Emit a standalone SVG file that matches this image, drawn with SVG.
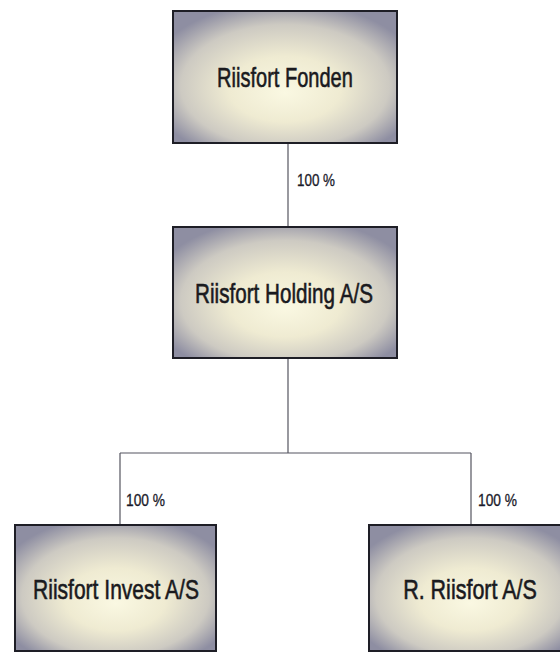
<svg xmlns="http://www.w3.org/2000/svg" width="560" height="655" viewBox="0 0 560 655">
<style>
.box{fill:url(#g);stroke:#1e1e26;stroke-width:2}
.t{font-family:"Liberation Sans",Arial,sans-serif;font-size:28px;fill:#1a1a1e;stroke:#1a1a1e;stroke-width:0.6;text-anchor:middle}
.p{font-family:"Liberation Sans",Arial,sans-serif;font-size:16px;fill:#1a1a2a;stroke:#1a1a2a;stroke-width:0.3}
.c{stroke:#555560;stroke-width:1.2;fill:none}
</style>
<defs>
<radialGradient id="g" cx="0.5" cy="0.55" r="0.62" fx="0.5" fy="0.62">
<stop offset="0" stop-color="#faf8e2"/>
<stop offset="0.4" stop-color="#efebd2"/>
<stop offset="0.75" stop-color="#cdcac2"/>
<stop offset="1" stop-color="#8e8ea2"/>
</radialGradient>
</defs>
<rect width="560" height="655" fill="#ffffff"/>
<g id="connectors">
<path class="c" d="M288 143V227"/>
<path class="c" d="M288 358V453M120 453H471M120 453V525M471 453V525"/>
</g>
<g id="labels">
<text class="p" x="297" y="186" textLength="38" lengthAdjust="spacingAndGlyphs">100 %</text>
<text class="p" x="126" y="506" textLength="39" lengthAdjust="spacingAndGlyphs">100 %</text>
<text class="p" x="478" y="506" textLength="39" lengthAdjust="spacingAndGlyphs">100 %</text>
</g>
<g id="fonden">
<rect class="box" x="173" y="11" width="224" height="132"/>
<text class="t" transform="matrix(0.7 0 0 1 285 87)" x="0" y="0" textLength="194" lengthAdjust="spacingAndGlyphs">Riisfort Fonden</text>
</g>
<g id="holding">
<rect class="box" x="173" y="227" width="224" height="131"/>
<text class="t" transform="matrix(0.7 0 0 1 284 303)" x="0" y="0" textLength="254" lengthAdjust="spacingAndGlyphs">Riisfort Holding A/S</text>
</g>
<g id="invest">
<rect class="box" x="15" y="525" width="201" height="126"/>
<text class="t" transform="matrix(0.7 0 0 1 116 599)" x="0" y="0" textLength="237" lengthAdjust="spacingAndGlyphs">Riisfort Invest A/S</text>
</g>
<g id="rriisfort">
<rect class="box" x="369" y="525" width="202" height="126"/>
<text class="t" transform="matrix(0.7 0 0 1 470 599)" x="0" y="0" textLength="191" lengthAdjust="spacingAndGlyphs">R. Riisfort A/S</text>
</g>
</svg>
